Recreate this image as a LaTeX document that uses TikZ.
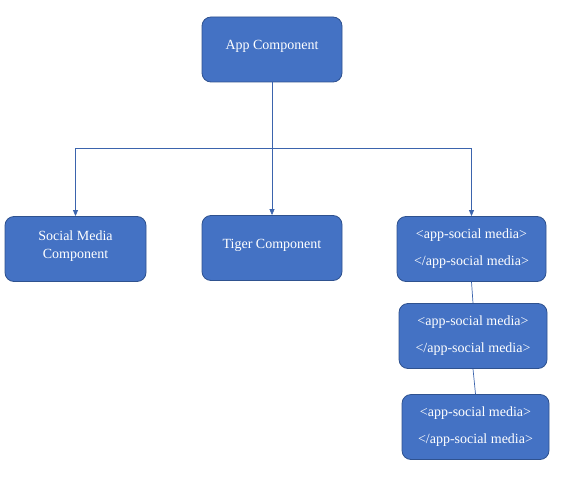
\documentclass[tikz,border=0pt]{standalone}
\usepackage{fontspec}
\setmainfont{Liberation Serif}
\usetikzlibrary{arrows.meta}
\definecolor{BoxFill}{HTML}{4472C4}
\definecolor{BoxEdge}{HTML}{2F528F}
\definecolor{WireBlue}{HTML}{3B64AD}
\newcommand{\boxfont}{\fontsize{14}{18}\selectfont}
\begin{document}
\begin{tikzpicture}
  [x=1pt,y=-1pt,every node/.style={rectangle,rounded corners=9pt,draw=BoxEdge,fill=BoxFill,text=white,font=\boxfont,align=center,minimum height=65pt,line width=0.8pt},->,>={Triangle[length=6pt,width=5pt]}]
  \useasboundingbox (0,0) rectangle (569,484);
  \node (napp) [minimum width=140pt,text depth=10pt] at (272,49.5) {App Component};
  \node (nsocial) [minimum width=141pt,text depth=9pt] at (75.5,249) {Social Media\\Component};
  \node (ntiger) [minimum width=140pt,text depth=9pt] at (272,248) {Tiger Component};
  \node (ntag1) [minimum width=149pt] at (471.5,249) {<app-social media>\\[9pt]</app-social media>};
  \node (ntag2) [minimum width=148pt] at (473,336) {<app-social media>\\[9pt]</app-social media>};
  \node (ntag3) [minimum width=147pt] at (475.5,427) {<app-social media>\\[9pt]</app-social media>};

\coordinate (nsplit) at (272,148);

\draw[WireBlue,line width=0.7pt] (napp.south) -- (ntiger.north);
\draw[WireBlue,line width=0.7pt] (nsplit) -| (nsocial.north);
\draw[WireBlue,line width=0.7pt] (nsplit) -| (ntag1.north);

\draw[-,WireBlue,line width=0.7pt] (ntag1.south) -- (ntag2.north);
\draw[-,WireBlue,line width=0.7pt] (ntag2.south) -- (ntag3.north);
\end{tikzpicture}
\end{document}
